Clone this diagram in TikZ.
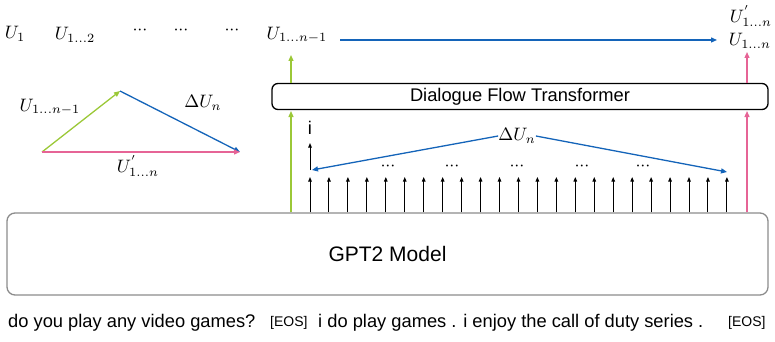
\documentclass[tikz,border=0pt]{standalone}
\usepackage[no-math]{fontspec}
\setmainfont{Liberation Sans}
\usetikzlibrary{arrows.meta}
\definecolor{cgreen}{RGB}{155,200,55}
\definecolor{cblue}{RGB}{20,100,185}
\definecolor{cpink}{RGB}{230,100,150}
\definecolor{cgray}{RGB}{140,140,140}
\newcommand{\mydots}{{\cdotp}{\cdotp}{\cdotp}}
\tikzset{
  tip/.style={-{Triangle[length=6pt,width=5pt]}},
  smalltip/.style={-{Triangle[length=4.5pt,width=3.5pt]}},
  mathlbl/.style={font=\fontsize{10}{12}\selectfont, scale=1.8, inner sep=0pt},
  sanslbl/.style={font=\fontsize{18.3}{20}\selectfont, inner sep=0pt},
  eoslbl/.style={font=\fontsize{14}{16}\selectfont, inner sep=0pt},
  greenline/.style={cgreen, line width=1.3pt, tip},
  pinkline/.style={cpink, line width=1.3pt, tip},
  blueline/.style={cblue, line width=1.3pt, tip},
  blackarrow/.style={black, line width=1pt, smalltip},
}
\begin{document}
\begin{tikzpicture}[x=1pt,y=-1pt]
\useasboundingbox (0,0) rectangle (775,342);
% top labels
\node[mathlbl] (u1) at (15,34) {$U_1$};
\node[mathlbl] (u12) at (75,35) {$U_{1\ldots 2}$};
\node[mathlbl] (d1) at (140,31) {$\mydots$};
\node[mathlbl] (d2) at (181,31) {$\mydots$};
\node[mathlbl] (d3) at (232,31) {$\mydots$};
\node[mathlbl] (unm1) at (297,35) {$U_{1\ldots n-1}$};
\node[mathlbl] (un) at (750,41) {$U_{1\ldots n}$};
\node[mathlbl] (unp) at (751,16) {$U^{'}_{1\ldots n}$};
\coordinate (bs) at (340,40);
\coordinate (be) at (717,40);
\draw[blueline] (bs) -- (be);
% DFT box
\node[draw=black, line width=1.3pt, rounded corners=6pt, minimum width=496pt, minimum height=26pt, sanslbl, inner sep=0pt] (dft) at (520,96.5) {Dialogue Flow Transformer};
\coordinate (gtop) at (291,55);
\coordinate (ptop) at (747,52);
\draw[greenline] (dft.north -| gtop) -- (gtop);
\draw[pinkline] (dft.north -| ptop) -- (ptop);
% GPT2 box
\node[draw=cgray, line width=1.3pt, rounded corners=8pt, minimum width=761pt, minimum height=82pt, font=\fontsize{21}{24}\selectfont, inner sep=0pt] (gpt) at (387.5,254) {GPT2 Model};
\coordinate (gtarget) at (291,111);
\coordinate (ptarget) at (747,111);
\draw[greenline] (gpt.north -| gtarget) -- (gtarget);
\draw[pinkline] (gpt.north -| ptarget) -- (ptarget);
% small black arrows
\foreach \i in {0,...,22} {
  \coordinate (a\i) at ({310+\i*18.95},177);
  \draw[blackarrow] (gpt.north -| a\i) -- (a\i);
}
\coordinate (ibot) at (310,170);
\coordinate (itop) at (310,143);
\draw[blackarrow] (ibot) -- (itop);
\node[sanslbl] (ilbl) at (310,128) {i};
\foreach \x [count=\k] in {388,452,517,582,643} {
  \node[mathlbl] (dd\k) at (\x,166) {$\mydots$};
}
\node[mathlbl] (dun) at (517,136) {$\Delta U_n$};
\coordinate (dl) at (312,170);
\coordinate (dr) at (727,172);
\draw[blueline] (dun.west) -- (dl);
\draw[blueline] (dun.east) -- (dr);
% triangle
\coordinate (t1) at (42,152);
\coordinate (t2) at (120,91);
\coordinate (t3) at (240,152);
\draw[greenline] (t1) -- (t2);
\draw[blueline] (t2) -- (t3);
\draw[pinkline] (t1) -- (t3);
\node[mathlbl] (lg) at (50,107) {$U_{1\ldots n-1}$};
\node[mathlbl] (lb) at (203,103) {$\Delta U_n$};
\node[mathlbl] (lp) at (138,166) {$U^{'}_{1\ldots n}$};
% bottom text
\node[sanslbl, anchor=west] (s1) at (8,323) {do you play any video games?};
\node[eoslbl, anchor=west] (e1) at (270,323) {[EOS]};
\node[sanslbl, anchor=west] (s2) at (318,323) {i do play games . i enjoy the call of duty series .};
\node[eoslbl, anchor=west] (e2) at (728,323) {[EOS]};
\end{tikzpicture}
\end{document}
